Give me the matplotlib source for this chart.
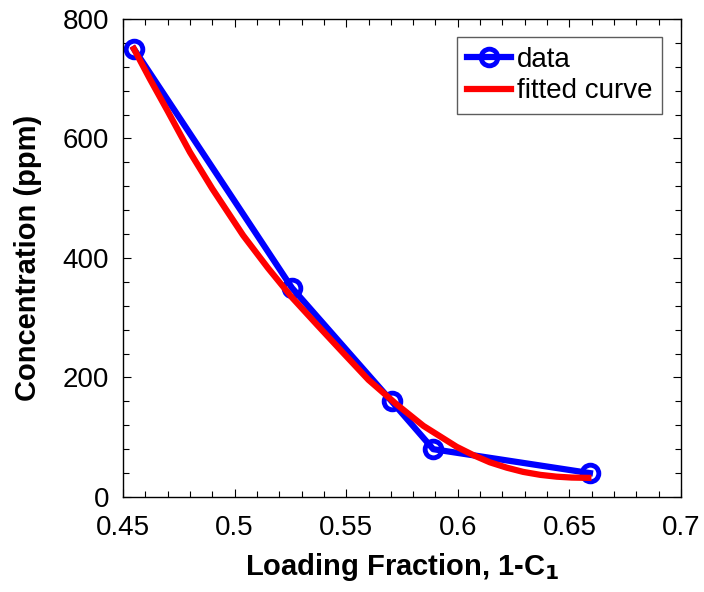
import matplotlib
matplotlib.use('Agg')
import matplotlib.pyplot as plt
from matplotlib.ticker import MultipleLocator

plt.rcParams['font.family'] = ['Liberation Sans', 'DejaVu Sans']

# measured points
load_frac = [0.4549, 0.5257, 0.5704, 0.589, 0.6592]
conc = [750, 350, 160, 80, 40]

# fitted curve
fit_x = [0.4549, 0.462, 0.47, 0.48, 0.49, 0.5038, 0.515, 0.5257, 0.537,
         0.5487, 0.56, 0.5726, 0.5846, 0.5995, 0.607, 0.6144, 0.622,
         0.6293, 0.637, 0.6443, 0.651, 0.6585]
fit_y = [750, 700, 646, 577, 516, 438, 383, 334, 288,
         241, 196, 155, 119, 84, 70, 58, 49,
         42, 37, 34, 32.5, 32]

fig = plt.figure(figsize=(7.04, 5.92), dpi=100)
ax = fig.add_axes([0.1747, 0.1605, 0.7926, 0.8074])

ax.plot(load_frac, conc, '-o', color=(0, 0, 1), lw=4.5, ms=12,
        mfc='none', mew=3.5, label='data')
ax.plot(fit_x, fit_y, '-', color=(1, 0, 0), lw=4.5, label='fitted curve',
        solid_joinstyle='round')

ax.set_xlim(0.45, 0.7)
ax.set_ylim(0, 800)
ax.xaxis.set_major_locator(MultipleLocator(0.05))
ax.xaxis.set_minor_locator(MultipleLocator(0.01))
ax.yaxis.set_major_locator(MultipleLocator(200))
ax.yaxis.set_minor_locator(MultipleLocator(40))
ax.set_xticks([0.45, 0.5, 0.55, 0.6, 0.65, 0.7])
ax.set_xticklabels(['0.45', '0.5', '0.55', '0.6', '0.65', '0.7'])

ax.tick_params(which='both', direction='in', top=True, right=True, width=0.8)
ax.tick_params(which='major', length=6, labelsize=20)
ax.tick_params(axis='x', which='major', pad=13)
ax.tick_params(axis='y', which='major', pad=10)
ax.tick_params(which='minor', length=4)
for s in ax.spines.values():
    s.set_linewidth(1.0)

ax.set_xlabel('Loading Fraction, 1-C$_\\mathbf{1}$', fontsize=21,
              fontweight='bold', labelpad=7)
ax.set_ylabel('Concentration (ppm)', fontsize=21, fontweight='bold',
              labelpad=15)

leg = ax.legend(loc='upper right', fontsize=20, frameon=True, fancybox=False,
                handlelength=1.6, handletextpad=0.2, borderpad=0.35,
                labelspacing=0.2, borderaxespad=0,
                bbox_to_anchor=(0.966, 0.962))
leg.get_frame().set_edgecolor('#333333')
leg.get_frame().set_linewidth(1.0)

fig.savefig('out.png', dpi=100)
